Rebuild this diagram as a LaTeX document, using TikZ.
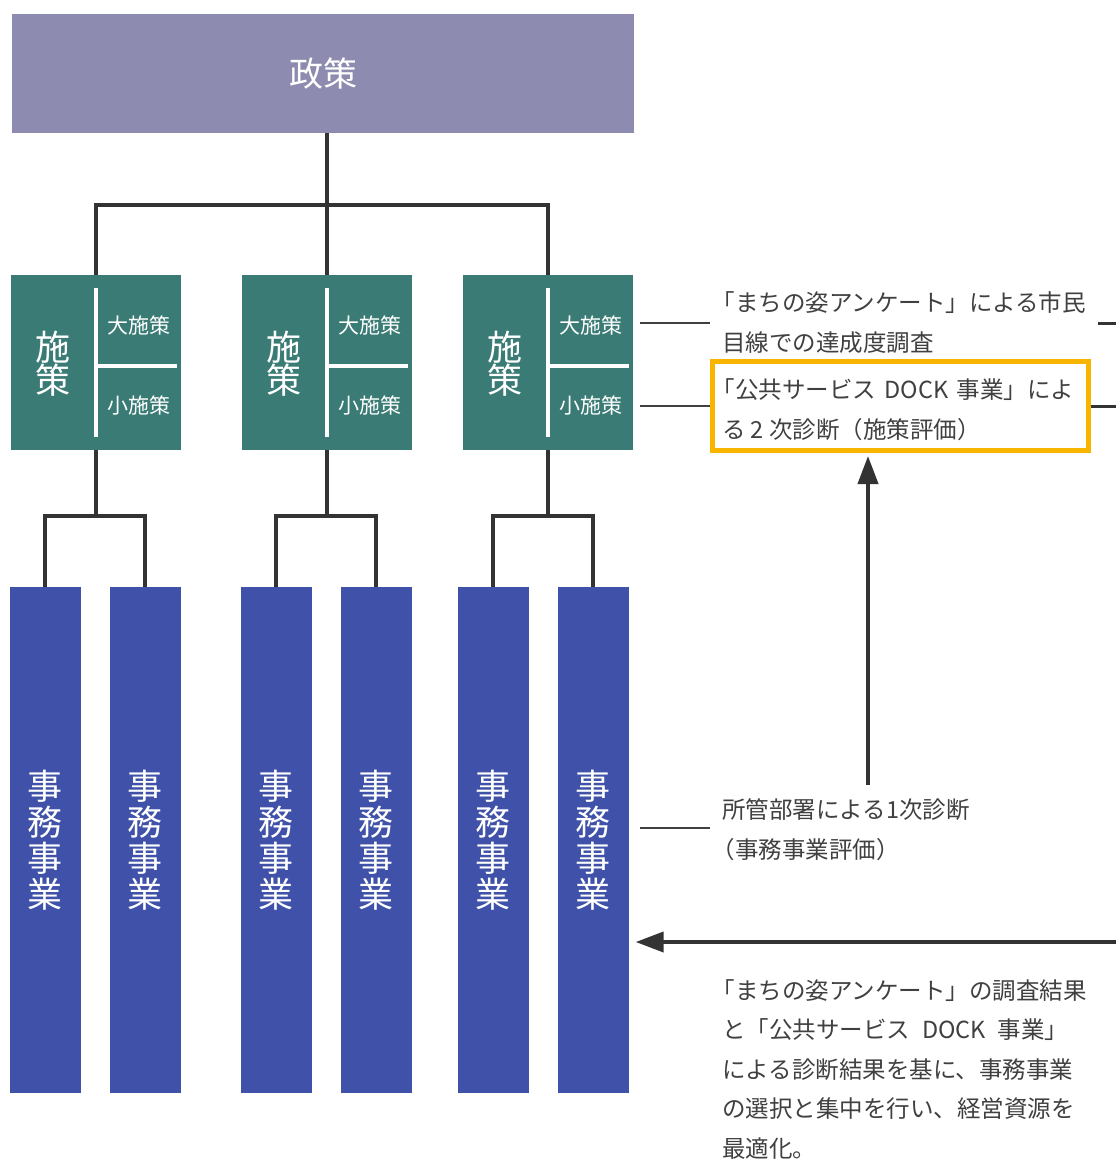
\documentclass[tikz,border=0pt]{standalone}
\usepackage{fontspec}
\setmainfont{Noto Sans CJK JP}
\usetikzlibrary{arrows.meta}
\definecolor{policyc}{HTML}{8D8CB0}
\definecolor{shisakuc}{HTML}{3A7C75}
\definecolor{jimuc}{HTML}{3F51A8}
\definecolor{linec}{HTML}{333333}
\definecolor{txtc}{HTML}{404040}
\definecolor{orangec}{HTML}{F7B500}
\newcommand\myfs[2]{\fontsize{#1pt}{#2pt}\selectfont}
\newcommand\lbk{\kern-0.45em}
\tikzset{
  box/.style={rectangle, inner sep=0pt, text=white, align=center},
  tree/.style={draw=linec, line width=4pt},
  inner/.style={draw=white, line width=4pt},
  txt/.style={align=left, text=txtc, inner xsep=12pt, inner ysep=0pt, font=\myfs{23.5}{40}},
  thinl/.style={draw=txtc, line width=1.3pt},
  stub/.style={draw=linec, line width=3pt},
  arr/.style={draw=linec, line width=4pt, -{Triangle[width=20pt,length=28pt]}},
}
\begin{document}
\begin{tikzpicture}[x=1pt,y=-1pt]
\fill[white] (0,0) rectangle (1116,1160);
\useasboundingbox (0,0) rectangle (1116,1160);

% policy
\node[box, fill=policyc, minimum width=622pt, minimum height=119pt, font=\myfs{34}{34}] (policy) at (323,73.5) {政策};

% shisaku boxes
\foreach \n/\cx in {s1/95.5, s2/326.5, s3/547.5}{
  \node[box, fill=shisakuc, minimum width=170pt, minimum height=175pt] (\n) at (\cx,362.5) {};
  \draw[inner] (\cx,288) -- (\cx,437);
  \draw[inner] (\cx,366) -- (\cx+81,366);
  \node[box, font=\myfs{35}{33}] (\n-main) at (\cx-43,364) {施\\策};
  \node[box, font=\myfs{21}{21}] (\n-big) at (\cx+43,325) {大施策};
  \node[box, font=\myfs{21}{21}] (\n-small) at (\cx+43,405) {小施策};
}

% jimu boxes
\foreach \n/\cx in {j1/45, j2/145, j3/276, j4/376, j5/493, j6/593}{
  \node[box, fill=jimuc, minimum width=71pt, minimum height=506pt, font=\myfs{35}{36}] (\n) at (\cx,840) {事\\務\\事\\業};
}

% tree connectors
\coordinate (topbar) at (326.5,205);
\draw[tree] (s1.north) |- (topbar) -| (s3.north);
\draw[tree] (policy.south -| s2.north) -- (s2.north);

\coordinate (b1) at (95.5,516);
\coordinate (b2) at (326.5,516);
\coordinate (b3) at (547.5,516);
\draw[tree] (s1.south) -- (b1);
\draw[tree] (s2.south) -- (b2);
\draw[tree] (s3.south) -- (b3);
\draw[tree] (j1.north) |- (b1) -| (j2.north);
\draw[tree] (j3.north) |- (b2) -| (j4.north);
\draw[tree] (j5.north) |- (b3) -| (j6.north);

% right texts
\node[txt, anchor=west] (t1) at (710,323) {\lbk「まちの姿アンケート」による市民\\目線での達成度調査};
\coordinate (l1) at (640,323);
\draw[thinl] (l1) -- (t1.west);

\node[draw=orangec, line width=5pt, minimum width=376pt, minimum height=89pt, inner sep=0pt] (ob) at (900,406) {};
\node[txt, anchor=west] (t2) at (710,410) {\makebox[352pt][s]{\lbk「公共サービス DOCK 事業」によ}\\る 2 次診断（施策評価）};
\coordinate (l2) at (640,406);
\draw[thinl] (l2) -- (ob.west);

\node[txt, anchor=west] (t3) at (710,830) {所管部署による1次診断\\\lbk（事務事業評価）};
\coordinate (l3) at (640,828);
\draw[thinl] (l3) -- (t3.west |- l3);

\node[txt, anchor=west, font=\myfs{23.5}{39.5}] (t5) at (710,1069) {\lbk「まちの姿アンケート」の調査結果\\\makebox[346pt][s]{と「公共サービス DOCK 事業」}\\による診断結果を基に、事務事業\\の選択と集中を行い、経営資源を\\最適化。};

% stubs to the right edge
\coordinate (e1) at (1116,323);
\coordinate (e2) at (1116,406);
\draw[stub] (t1.east) -- (e1);
\draw[stub] (ob.east) -- (e2);

% arrows
\coordinate (upfoot) at (868,785);
\draw[arr, shorten >=3pt] (upfoot) -- (upfoot |- ob.south);
\coordinate (redge) at (1116,942);
\draw[arr, shorten >=7pt] (redge) -- (redge -| j6.east);
\end{tikzpicture}
\end{document}
